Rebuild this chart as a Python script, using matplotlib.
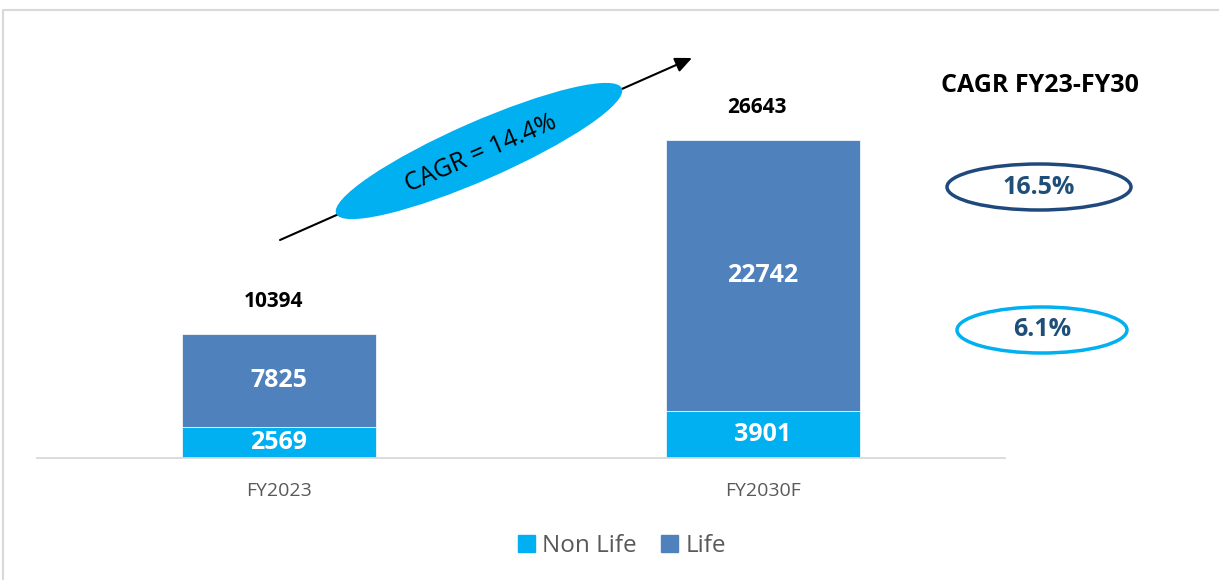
import matplotlib.pyplot as plt
import matplotlib.patches as mpatches
import numpy as np

plt.rcParams['font.family'] = ['Open Sans', 'DejaVu Sans']

categories = ['FY2023', 'FY2030F']
non_life = [2569, 3901]
life = [7825, 22742]
totals = [10394, 26643]
cagr_total = 'CAGR = 14.4%'
cagr_life = '16.5%'
cagr_non_life = '6.1%'

c_non_life = '#00B0F0'
c_life = '#4F81BD'
navy = '#1F497D'

fig = plt.figure(figsize=(12.19, 5.8), dpi=100)
ax = fig.add_axes([37 / 1219, 1 - 458 / 580, 968 / 1219, 418 / 580])

x = np.arange(len(categories))
ax.bar(x, non_life, width=0.4, color=c_non_life, edgecolor='white', linewidth=0.5, label='Non Life')
ax.bar(x, life, width=0.4, bottom=non_life, color=c_life, edgecolor='white', linewidth=0.5, label='Life')

for i in range(len(categories)):
    ax.text(x[i], non_life[i] / 2, str(non_life[i]), ha='center', va='center',
            color='white', fontsize=18, fontweight='bold')
    ax.text(x[i], non_life[i] + life[i] / 2, str(life[i]), ha='center', va='center',
            color='white', fontsize=18, fontweight='bold')
    ax.text(x[i] - 0.012, totals[i] + 2700, str(totals[i]), ha='center', va='center',
            color='black', fontsize=15, fontweight='bold')

ax.set_xlim(-0.5, 1.5)
ax.set_ylim(0, 35000)
ax.set_xticks(x)
ax.set_xticklabels(categories, fontsize=14, color='#595959')
ax.tick_params(axis='x', length=0, pad=17)
ax.set_yticks([])
for s in ['top', 'right', 'left']:
    ax.spines[s].set_visible(False)
ax.spines['bottom'].set_color('#D9D9D9')
ax.spines['bottom'].set_linewidth(1.3)

leg = fig.legend(handles=[mpatches.Patch(color=c_non_life, label='Non Life'),
                          mpatches.Patch(color=c_life, label='Life')],
                 loc='center', bbox_to_anchor=(622 / 1219, 1 - 546 / 580), ncol=2,
                 frameon=False, fontsize=17.5, handlelength=0.7, handleheight=0.7,
                 handletextpad=0.3, columnspacing=1.0)
for t in leg.get_texts():
    t.set_color('#595959')

# overlay in pixel units for the annotations
ov = fig.add_axes([0, 0, 1, 1], facecolor='none')
ov.set_xlim(0, 1219)
ov.set_ylim(0, 580)
ov.axis('off')

# outer frame
ov.plot([3, 3, 1219], [0, 570, 570], color='#D9D9D9', linewidth=1.5)

# growth arrow with CAGR ellipse
ov.annotate('', xy=(692, 522), xytext=(280, 340),
            arrowprops=dict(arrowstyle='-|>,head_length=1.0,head_width=0.45',
                            color='black', lw=1.5, shrinkA=0, shrinkB=0))
ov.add_patch(mpatches.Ellipse((479, 429), 312, 58, angle=23.7, facecolor=c_non_life,
                              edgecolor='none', zorder=3))
ov.text(481, 426, cagr_total, rotation=23.5, rotation_mode='anchor', ha='center', va='center',
        fontsize=18, color='black', zorder=4)

ov.text(1040, 494, 'CAGR FY23-FY30', ha='center', va='center', fontsize=18,
        fontweight='bold', color='black')
ov.add_patch(mpatches.Ellipse((1039, 393), 184, 46, facecolor='none',
                              edgecolor=navy, linewidth=2.5))
ov.text(1039, 393, cagr_life, ha='center', va='center', fontsize=18,
        fontweight='bold', color='#1F4E79')
ov.add_patch(mpatches.Ellipse((1042, 250), 170, 46, facecolor='none',
                              edgecolor=c_non_life, linewidth=2.5))
ov.text(1042, 250, cagr_non_life, ha='center', va='center', fontsize=18,
        fontweight='bold', color='#1F4E79')

fig.savefig('out.png', dpi=100)
